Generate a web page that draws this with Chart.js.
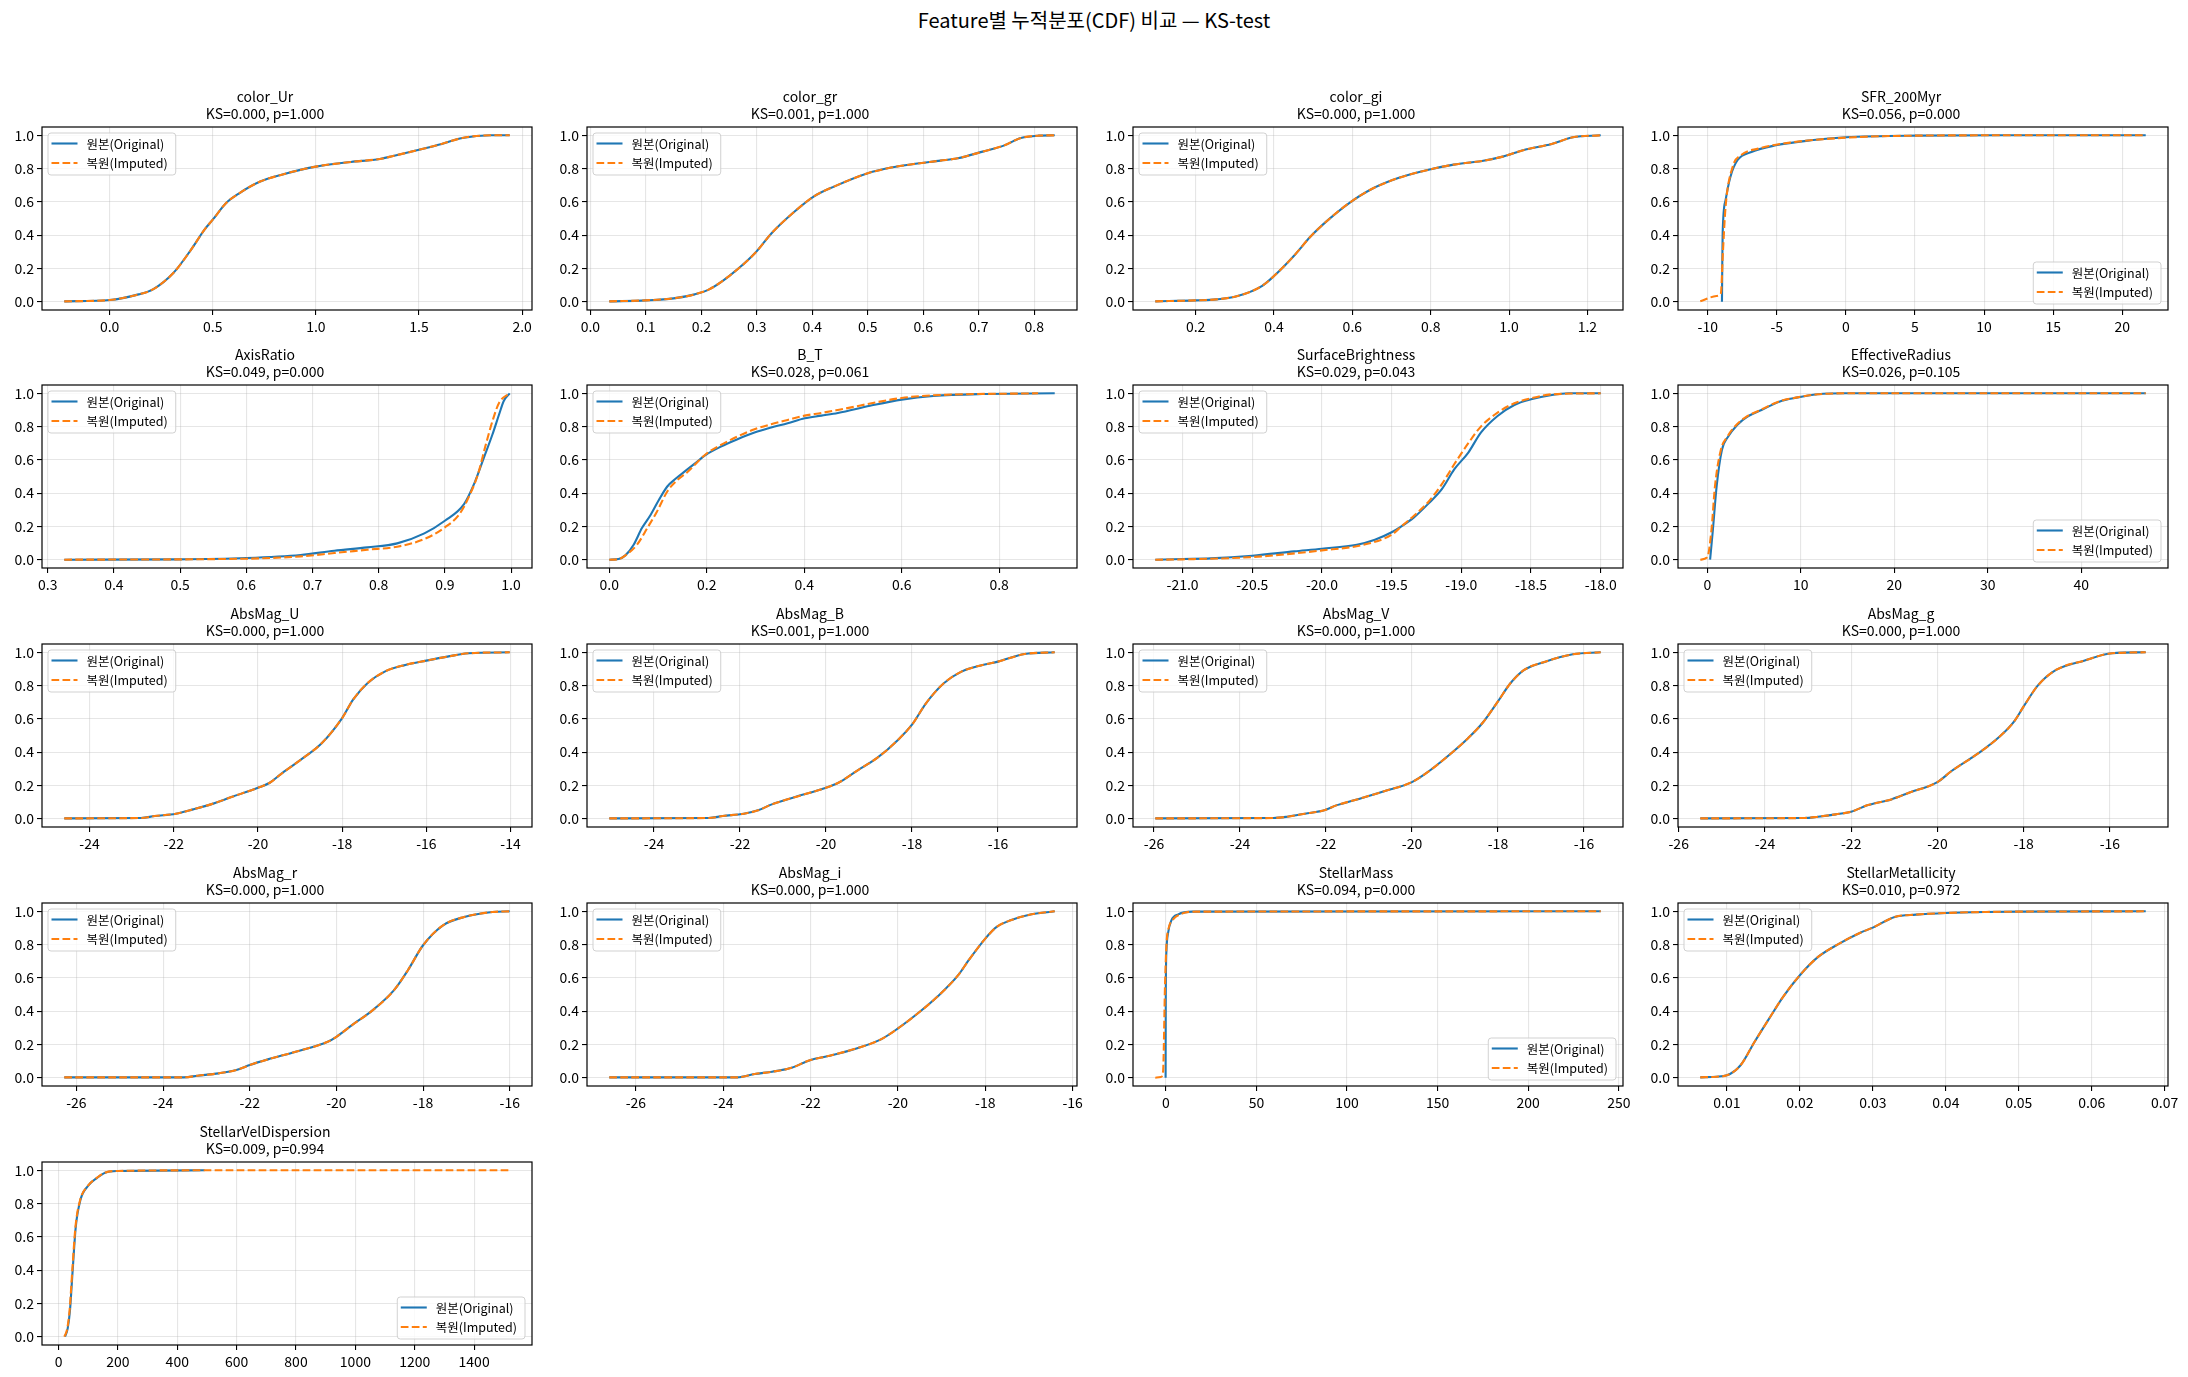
<!DOCTYPE html>
<html>
<head>
<meta charset="utf-8">
<script src="https://cdn.jsdelivr.net/npm/chart.js@4.4.0/dist/chart.umd.min.js"></script>
<style>
    html, body {margin: 0; padding: 0; background: #fff;}
    #fig {position: relative; width: 2188px; height: 1377px; overflow: hidden;}
    #suptitle {position: absolute; left: 0; top: 8px; width: 2188px; text-align: center;
        font: 20px/24px "Noto Sans CJK KR", "Noto Sans", sans-serif; color: #000;}
    canvas {position: absolute;}
</style>
</head>
<body>
<div id="fig">
    <div id="suptitle">Feature별 누적분포(CDF) 비교 — KS-test</div>
</div>
<script>
// Feature names and KS results
const features = ["color_Ur", "color_gr", "color_gi", "SFR_200Myr", "AxisRatio", "B_T", "SurfaceBrightness",
    "EffectiveRadius", "AbsMag_U", "AbsMag_B", "AbsMag_V", "AbsMag_g", "AbsMag_r", "AbsMag_i", "StellarMass",
    "StellarMetallicity", "StellarVelDispersion"];
const ksStat = [0.000, 0.001, 0.000, 0.056, 0.049, 0.028, 0.029, 0.026, 0.000, 0.001, 0.000, 0.000, 0.000,
    0.000, 0.094, 0.010, 0.009];
const pValue = [1.000, 1.000, 1.000, 0.000, 0.000, 0.061, 0.043, 0.105, 1.000, 1.000, 1.000, 1.000, 1.000,
    1.000, 0.000, 0.972, 0.994];

// CDF curves (x values, cumulative fraction)
const colorUrX = [-0.22, 0.0, 0.14, 0.21, 0.31, 0.395, 0.46, 0.5, 0.565, 0.63, 0.73, 0.83, 1.0, 1.17, 1.31, 1.375, 1.51, 1.61, 1.71, 1.85, 1.94];
const colorUrY = [0.002, 0.01, 0.044, 0.074, 0.174, 0.313, 0.433, 0.493, 0.593, 0.653, 0.722, 0.762, 0.812, 0.84, 0.858, 0.876, 0.916, 0.948, 0.984, 1.0, 1.0];

const colorGrX = [0.034, 0.1, 0.15, 0.188, 0.214, 0.25, 0.296, 0.327, 0.365, 0.403, 0.44, 0.5, 0.542, 0.58, 0.631, 0.662, 0.707, 0.745, 0.776, 0.808, 0.837];
const colorGrY = [0.002, 0.008, 0.02, 0.044, 0.074, 0.154, 0.289, 0.413, 0.533, 0.633, 0.693, 0.772, 0.806, 0.826, 0.848, 0.862, 0.902, 0.938, 0.984, 0.998, 1.0];

const colorGiX = [0.097, 0.2, 0.253, 0.307, 0.369, 0.4, 0.45, 0.494, 0.539, 0.592, 0.646, 0.717, 0.8, 0.859, 0.931, 0.984, 1.038, 1.109, 1.163, 1.234];
const colorGiY = [0.002, 0.008, 0.014, 0.034, 0.094, 0.154, 0.273, 0.393, 0.493, 0.593, 0.673, 0.743, 0.796, 0.824, 0.846, 0.872, 0.912, 0.948, 0.988, 1.0];

const sfrOrigX = [-8.97, -8.95, -8.92, -8.71, -8.36, -7.85, -6.84, -5.07, -2.53, 0, 5.07, 11.1, 21.7];
const sfrOrigY = [0.0, 0.2, 0.41, 0.61, 0.75, 0.85, 0.90, 0.94, 0.97, 0.988, 0.998, 1.0, 1.0];
const sfrImpX = [-10.54, -9.37, -9.05, -8.9, -8.71, -8.2, -7.6, -6.35, -4.05, 0, 5.07, 11.1, 21.7];
const sfrImpY = [0.002, 0.034, 0.05, 0.3, 0.57, 0.81, 0.88, 0.92, 0.956, 0.986, 0.998, 1.0, 1.0];

const axisRatioOrigX = [0.325, 0.495, 0.6, 0.682, 0.733, 0.783, 0.828, 0.869, 0.9, 0.929, 0.944, 0.959, 0.972, 0.982, 0.989, 0.998];
const axisRatioOrigY = [0.0, 0.002, 0.01, 0.028, 0.054, 0.074, 0.098, 0.158, 0.234, 0.334, 0.454, 0.614, 0.754, 0.874, 0.954, 1.0];
const axisRatioImpX = [0.325, 0.6, 0.682, 0.733, 0.783, 0.828, 0.869, 0.9, 0.922, 0.937, 0.95, 0.962, 0.972, 0.982, 0.998];
const axisRatioImpY = [0.0, 0.006, 0.02, 0.04, 0.06, 0.078, 0.124, 0.194, 0.274, 0.384, 0.514, 0.694, 0.834, 0.944, 1.0];

const btOrigX = [0.0, 0.019, 0.033, 0.05, 0.067, 0.085, 0.102, 0.119, 0.136, 0.153, 0.174, 0.198, 0.229, 0.263, 0.298, 0.332, 0.366, 0.401, 0.435, 0.469, 0.535, 0.6, 0.665, 0.765, 0.914];
const btOrigY = [0.0, 0.004, 0.026, 0.09, 0.19, 0.27, 0.36, 0.44, 0.486, 0.526, 0.574, 0.63, 0.68, 0.724, 0.764, 0.794, 0.82, 0.85, 0.866, 0.882, 0.925, 0.962, 0.984, 0.996, 1.0];
const btImpX = [0.0, 0.02, 0.035, 0.057, 0.078, 0.098, 0.119, 0.14, 0.16, 0.198, 0.229, 0.263, 0.298, 0.332, 0.366, 0.401, 0.435, 0.469, 0.6, 0.665, 0.88];
const btImpY = [0.0, 0.004, 0.03, 0.09, 0.19, 0.29, 0.41, 0.48, 0.526, 0.634, 0.69, 0.74, 0.784, 0.814, 0.84, 0.866, 0.882, 0.9, 0.972, 0.988, 1.0];

const sbOrigX = [-21.196, -21.0, -20.8, -20.5, -20.2, -20.0, -19.75, -19.62, -19.5, -19.43, -19.34, -19.24, -19.14, -19.05, -18.95, -18.86, -18.74, -18.62, -18.5, -18.35, -18.23, -18.0];
const sbOrigY = [0.0, 0.004, 0.008, 0.024, 0.05, 0.066, 0.09, 0.12, 0.165, 0.2, 0.254, 0.334, 0.424, 0.544, 0.644, 0.764, 0.864, 0.93, 0.964, 0.99, 1.0, 1.0];
const sbImpX = [-21.196, -21.0, -20.5, -20.0, -19.7, -19.5, -19.43, -19.34, -19.24, -19.14, -19.05, -18.95, -18.86, -18.74, -18.62, -18.5, -18.35, -18.0];
const sbImpY = [0.0, 0.002, 0.016, 0.056, 0.09, 0.15, 0.2, 0.264, 0.344, 0.454, 0.575, 0.7, 0.8, 0.884, 0.94, 0.97, 0.994, 1.0];

const reOrigX = [0.3, 0.6, 1.0, 1.57, 2.24, 3.2, 4.3, 5.8, 7.7, 9.55, 11.8, 14.8, 46.9];
const reOrigY = [0.0, 0.18, 0.44, 0.66, 0.74, 0.81, 0.86, 0.90, 0.95, 0.974, 0.994, 1.0, 1.0];
const reImpX = [-0.75, 0.0, 0.45, 0.82, 1.45, 2.15, 3.1, 4.2, 5.7, 7.6, 9.5, 11.8, 14.8, 46.9];
const reImpY = [0.0, 0.014, 0.18, 0.44, 0.66, 0.74, 0.81, 0.86, 0.90, 0.95, 0.974, 0.994, 1.0, 1.0];

const magUX = [-24.6, -22.78, -22.45, -21.95, -21.54, -21.12, -20.63, -20.0, -19.72, -19.47, -18.98, -18.48, -18.0, -17.74, -17.4, -16.99, -16.5, -16.0, -15.5, -15.0, -14.02];
const magUY = [0.002, 0.004, 0.016, 0.03, 0.056, 0.086, 0.13, 0.186, 0.216, 0.265, 0.355, 0.455, 0.605, 0.715, 0.814, 0.884, 0.924, 0.95, 0.974, 0.994, 1.0];

const magBX = [-25.04, -22.73, -22.4, -21.91, -21.58, -21.26, -20.77, -20.0, -19.71, -19.3, -18.81, -18.32, -18.0, -17.67, -17.26, -16.85, -16.36, -16.0, -15.38, -14.68];
const magBY = [0.002, 0.004, 0.016, 0.03, 0.05, 0.086, 0.126, 0.186, 0.216, 0.285, 0.365, 0.475, 0.565, 0.695, 0.814, 0.884, 0.924, 0.944, 0.99, 1.0];

const magVX = [-25.97, -23.22, -22.9, -22.49, -22.02, -21.76, -21.28, -20.63, -20.0, -19.66, -19.17, -18.69, -18.36, -18.0, -17.71, -17.39, -16.9, -16.26, -15.61];
const magVY = [0.002, 0.004, 0.012, 0.03, 0.052, 0.08, 0.116, 0.166, 0.22, 0.275, 0.375, 0.485, 0.575, 0.705, 0.814, 0.894, 0.944, 0.988, 1.0];

const magGX = [-25.5, -23.09, -22.77, -22.36, -22.0, -21.63, -21.07, -20.66, -20.0, -19.68, -19.04, -18.55, -18.22, -18.0, -17.66, -17.25, -16.6, -15.95, -15.17];
const magGY = [0.002, 0.004, 0.012, 0.026, 0.042, 0.08, 0.116, 0.156, 0.22, 0.285, 0.395, 0.495, 0.585, 0.675, 0.804, 0.894, 0.95, 0.994, 1.0];

const magRX = [-26.28, -23.52, -23.2, -22.72, -22.31, -22.0, -21.58, -20.94, -20.2, -20.0, -19.64, -19.16, -18.67, -18.35, -18.0, -17.54, -17.05, -16.4, -16.0];
const magRY = [0.002, 0.002, 0.012, 0.026, 0.046, 0.076, 0.11, 0.156, 0.216, 0.246, 0.316, 0.406, 0.526, 0.646, 0.796, 0.916, 0.966, 0.996, 1.0];

const magIX = [-26.61, -23.68, -23.28, -22.88, -22.48, -22.0, -21.6, -20.95, -20.39, -20.0, -19.5, -19.1, -18.62, -18.38, -18.0, -17.74, -17.42, -16.94, -16.41];
const magIY = [0.002, 0.002, 0.022, 0.036, 0.056, 0.106, 0.13, 0.176, 0.23, 0.296, 0.396, 0.486, 0.616, 0.706, 0.836, 0.906, 0.946, 0.982, 1.0];

const massOrigX = [-0.1, 0.0, 0.4, 1.2, 3.1, 6.9, 14.6, 240];
const massOrigY = [0.0, 0.5, 0.77, 0.866, 0.946, 0.982, 0.998, 1.0];
const massImpX = [-5.8, -2.7, -1.5, -0.4, 0.4, 1.5, 3.9, 8.9, 16.6, 240];
const massImpY = [0.0, 0.004, 0.036, 0.566, 0.806, 0.896, 0.95, 0.986, 0.998, 1.0];

const metalX = [0.00635, 0.00856, 0.01, 0.0119, 0.0138, 0.0158, 0.0177, 0.02, 0.0225, 0.0254, 0.0282, 0.03, 0.033, 0.0359, 0.04, 0.0455, 0.05, 0.0674];
const metalY = [0.002, 0.006, 0.014, 0.076, 0.216, 0.356, 0.486, 0.616, 0.726, 0.806, 0.87, 0.902, 0.966, 0.98, 0.99, 0.996, 0.998, 1.0];

const velOrigX = [21.9, 30.9, 38.6, 47.6, 58, 73.4, 99.2, 131, 157, 200, 492];
const velOrigY = [0.0, 0.05, 0.16, 0.40, 0.66, 0.82, 0.906, 0.956, 0.986, 0.996, 1.0];
const velImpX = [19.3, 28.3, 37.3, 46.4, 57, 72.5, 98.5, 130, 156, 200, 500, 1520];
const velImpY = [0.0, 0.04, 0.16, 0.40, 0.66, 0.82, 0.906, 0.956, 0.986, 0.996, 1.0, 1.0];

// x tick labels per panel
const xTicks = [
    [0, 0.5, 1.0, 1.5, 2.0],
    [0, 0.1, 0.2, 0.3, 0.4, 0.5, 0.6, 0.7, 0.8],
    [0.2, 0.4, 0.6, 0.8, 1.0, 1.2],
    [-10, -5, 0, 5, 10, 15, 20],
    [0.3, 0.4, 0.5, 0.6, 0.7, 0.8, 0.9, 1.0],
    [0, 0.2, 0.4, 0.6, 0.8],
    [-21, -20.5, -20, -19.5, -19, -18.5, -18],
    [0, 10, 20, 30, 40],
    [-24, -22, -20, -18, -16, -14],
    [-24, -22, -20, -18, -16],
    [-26, -24, -22, -20, -18, -16],
    [-26, -24, -22, -20, -18, -16],
    [-26, -24, -22, -20, -18, -16],
    [-26, -24, -22, -20, -18, -16],
    [0, 50, 100, 150, 200, 250],
    [0.01, 0.02, 0.03, 0.04, 0.05, 0.06, 0.07],
    [0, 200, 400, 600, 800, 1000, 1200, 1400],
];
const yTicks = [0, 0.2, 0.4, 0.6, 0.8, 1.0];

const origX = [colorUrX, colorGrX, colorGiX, sfrOrigX, axisRatioOrigX, btOrigX, sbOrigX, reOrigX, magUX, magBX, magVX, magGX, magRX, magIX, massOrigX, metalX, velOrigX];
const origY = [colorUrY, colorGrY, colorGiY, sfrOrigY, axisRatioOrigY, btOrigY, sbOrigY, reOrigY, magUY, magBY, magVY, magGY, magRY, magIY, massOrigY, metalY, velOrigY];
const impX = [colorUrX, colorGrX, colorGiX, sfrImpX, axisRatioImpX, btImpX, sbImpX, reImpX, magUX, magBX, magVX, magGX, magRX, magIX, massImpX, metalX, velImpX];
const impY = [colorUrY, colorGrY, colorGiY, sfrImpY, axisRatioImpY, btImpY, sbImpY, reImpY, magUY, magBY, magVY, magGY, magRY, magIY, massImpY, metalY, velImpY];

// where matplotlib put each legend ("best")
const legendCorner = ["ul", "ul", "ul", "lr", "ul", "ul", "ul", "lr", "ul", "ul", "ul", "ul", "ul", "ul", "lr", "ul", "lr"];

// ---- layout ----
const FONT = '"Noto Sans CJK KR", "Noto Sans", sans-serif';
const BLUE = "#1f77b4";
const ORANGE = "#ff7f0e";
const GRID = "rgba(176,176,176,0.32)";
const colLeft = [42, 587, 1133, 1678];
const rowTop = [127, 385, 644, 903, 1162];
const AX_W = 490, AX_H = 183;
const PAD_L = 44, PAD_T = 46, PAD_R = 26, PAD_B = 36;

function decimals(v) {
    const s = String(Number(v.toFixed(6)));
    return s.includes(".") ? s.split(".")[1].length : 0;
}

const framePlugin = {
    id: "frame",
    afterDraw(chart) {
        const {ctx, chartArea: a} = chart;
        ctx.save();
        ctx.strokeStyle = "#000";
        ctx.lineWidth = 1.2;
        ctx.strokeRect(a.left, a.top, a.right - a.left, a.bottom - a.top);
        ctx.restore();
    },
};

const legendPlugin = {
    id: "cdfLegend",
    afterDatasetsDraw(chart, args, opts) {
        const {ctx, chartArea: a} = chart;
        const sets = chart.data.datasets;
        ctx.save();
        ctx.font = `12.5px ${FONT}`;
        const tw = Math.max(...sets.map(d => ctx.measureText(d.label).width));
        const w = 38.5 + tw + 8, h = 42;
        const x0 = opts.corner === "lr" ? a.right - 7 - w : a.left + 6;
        const y0 = opts.corner === "lr" ? a.bottom - 6 - h : a.top + 6;
        // rounded box
        const r = 3;
        ctx.beginPath();
        ctx.moveTo(x0 + r, y0);
        ctx.lineTo(x0 + w - r, y0);
        ctx.quadraticCurveTo(x0 + w, y0, x0 + w, y0 + r);
        ctx.lineTo(x0 + w, y0 + h - r);
        ctx.quadraticCurveTo(x0 + w, y0 + h, x0 + w - r, y0 + h);
        ctx.lineTo(x0 + r, y0 + h);
        ctx.quadraticCurveTo(x0, y0 + h, x0, y0 + h - r);
        ctx.lineTo(x0, y0 + r);
        ctx.quadraticCurveTo(x0, y0, x0 + r, y0);
        ctx.closePath();
        ctx.fillStyle = "rgba(255,255,255,0.8)";
        ctx.fill();
        ctx.strokeStyle = "rgba(204,204,204,0.9)";
        ctx.lineWidth = 1;
        ctx.stroke();
        sets.forEach((d, k) => {
            const yy = y0 + 10.5 + k * 19.5;
            ctx.beginPath();
            ctx.setLineDash(d.borderDash || []);
            ctx.strokeStyle = d.borderColor;
            ctx.lineWidth = d.borderWidth;
            ctx.moveTo(x0 + 3.5, yy);
            ctx.lineTo(x0 + 29.5, yy);
            ctx.stroke();
            ctx.setLineDash([]);
            ctx.fillStyle = "#000";
            ctx.textBaseline = "middle";
            ctx.textAlign = "left";
            ctx.fillText(d.label, x0 + 38.5, yy + 0.5);
        });
        ctx.restore();
    },
};

Chart.register(framePlugin, legendPlugin);

const fig = document.getElementById("fig");

features.forEach((name, i) => {
    const r = Math.floor(i / 4), c = i % 4;
    const w = PAD_L + AX_W + PAD_R, h = PAD_T + AX_H + PAD_B;
    const cv = document.createElement("canvas");
    cv.width = w;
    cv.height = h;
    cv.style.width = w + "px";
    cv.style.height = h + "px";
    cv.style.left = (colLeft[c] - PAD_L) + "px";
    cv.style.top = (rowTop[r] - PAD_T) + "px";
    fig.appendChild(cv);

    // matplotlib-style 5% margins around the data
    const allX = origX[i].concat(impX[i]);
    const lo = Math.min(...allX), hi = Math.max(...allX), m = (hi - lo) * 0.05;
    const ticks = xTicks[i];
    const dec = Math.max(...ticks.map(decimals));

    new Chart(cv, {
        type: "line",
        data: {
            datasets: [
                {
                    label: "원본(Original)",
                    data: origX[i].map((x, k) => ({x, y: origY[i][k]})),
                    borderColor: BLUE,
                    borderWidth: 2.1,
                    pointRadius: 0,
                    cubicInterpolationMode: "monotone",
                    order: 1,
                },
                {
                    label: "복원(Imputed)",
                    data: impX[i].map((x, k) => ({x, y: impY[i][k]})),
                    borderColor: ORANGE,
                    borderWidth: 2.1,
                    borderDash: [7.7, 3.3],
                    pointRadius: 0,
                    cubicInterpolationMode: "monotone",
                    order: 0,
                },
            ],
        },
        options: {
            responsive: false,
            animation: false,
            layout: {padding: {left: 0, right: PAD_R, top: 0, bottom: 0}},
            plugins: {
                legend: {display: false},
                tooltip: {enabled: false},
                title: {
                    display: true,
                    text: [name, `KS=${ksStat[i].toFixed(3)}, p=${pValue[i].toFixed(3)}`],
                    color: "#000",
                    font: {family: FONT, size: 14, weight: "normal", lineHeight: 1.2},
                    padding: {top: 7.6, bottom: PAD_T - 7.6 - 33.6},
                },
                cdfLegend: {corner: legendCorner[i]},
            },
            scales: {
                x: {
                    type: "linear",
                    min: lo - m,
                    max: hi + m,
                    afterBuildTicks: s => {
                        s.ticks = ticks.filter(v => v >= s.min - 1e-9 && v <= s.max + 1e-9).map(v => ({value: v}));
                    },
                    afterFit: s => { s.height = PAD_B; },
                    ticks: {
                        autoSkip: false,
                        maxRotation: 0,
                        padding: 3,
                        color: "#000",
                        font: {family: FONT, size: 14},
                        callback: v => v.toFixed(dec),
                    },
                    grid: {color: GRID, lineWidth: 1.1, tickLength: 5, tickColor: "#000", drawTicks: true},
                    border: {display: false},
                },
                y: {
                    min: -0.05,
                    max: 1.05,
                    afterBuildTicks: s => { s.ticks = yTicks.map(v => ({value: v})); },
                    afterFit: s => { s.width = PAD_L; },
                    ticks: {
                        padding: 3,
                        color: "#000",
                        font: {family: FONT, size: 14},
                        callback: v => v.toFixed(1),
                    },
                    grid: {color: GRID, lineWidth: 1.1, tickLength: 5, tickColor: "#000", drawTicks: true},
                    border: {display: false},
                },
            },
        },
    });
});
</script>
</body>
</html>
